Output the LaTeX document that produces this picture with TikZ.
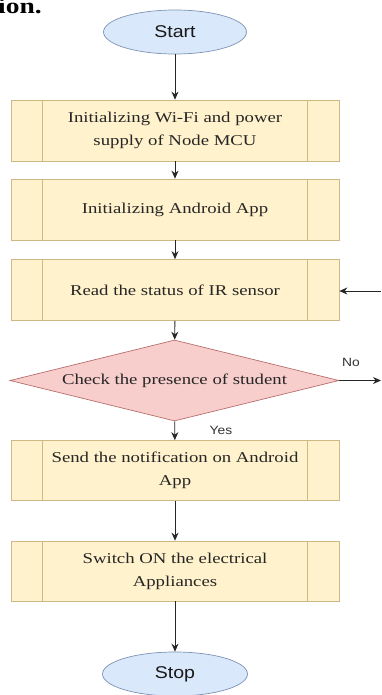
\documentclass[tikz,border=0pt]{standalone}
\usepackage{fontspec}
\setmainfont{Liberation Serif}[FakeStretch=1.25]
\setsansfont{Liberation Sans}[FakeStretch=1.15]
\usetikzlibrary{shapes.geometric,arrows.meta}
\definecolor{boxfill}{HTML}{FFF2CC}
\definecolor{boxdraw}{HTML}{CDB983}
\definecolor{dfill}{HTML}{F8CECC}
\definecolor{ddraw}{HTML}{B86F6C}
\definecolor{efill}{HTML}{DAE8FC}
\definecolor{edraw}{HTML}{7E93B3}
\tikzset{
  term/.style={ellipse, draw=edraw, fill=efill, line width=0.7pt, minimum width=143pt, minimum height=44pt, inner sep=0pt, text=black!90, font=\sffamily\fontsize{17}{20}\selectfont},
  procbox/.style={rectangle, draw=boxdraw, fill=boxfill, line width=0.7pt, minimum width=328pt, minimum height=61pt, align=center, inner sep=0pt, text=black!85, font=\fontsize{15}{23}\selectfont},
  decision/.style={diamond, draw=ddraw, fill=dfill, line width=0.7pt, minimum width=329pt, minimum height=81pt, shape aspect=4.06, inner sep=0pt, text=black!85, font=\fontsize{15}{18}\selectfont},
  sideline/.style={draw=boxdraw, line width=0.7pt},
  arr/.style={-{Stealth[length=8pt,width=7pt]}, line width=0.9pt, draw=black!85},
  lbl/.style={inner sep=0pt, text=black!80, font=\sffamily\fontsize{12}{14}\selectfont},
  heading/.style={inner sep=0pt, anchor=base west, font=\bfseries\fontsize{22}{24}\selectfont}
}
\begin{document}
\begin{tikzpicture}[x=1pt,y=-1pt]
\useasboundingbox (0,0) rectangle (381,695);
\clip (0,0) rectangle (381,695);
\fill[white] (0,0) rectangle (381,695);

\node[heading] (head) at (-2,14) {ion.};

\node[term] (start) at (175,32) {Start};
\node[procbox] (b1) at (175,130.5) {Initializing Wi-Fi and power\\supply of Node MCU};
\node[procbox] (b2) at (175,209.5) {Initializing Android App};
\node[procbox] (b3) at (175,290) {Read the status of IR sensor};
\node[decision] (d) at (174.5,380.5) {Check the presence of student};
\node[procbox, minimum height=60pt] (b4) at (175,470.5) {Send the notification on Android\\App};
\node[procbox, minimum height=60pt] (b5) at (175,571) {Switch ON the electrical\\Appliances};
\node[term, minimum width=145pt] (stop) at (175,674) {Stop};

\foreach \b in {b1,b2,b3,b4,b5}{
  \draw[sideline] ([xshift=32pt]\b.north west) -- ([xshift=32pt]\b.south west);
  \draw[sideline] ([xshift=-32pt]\b.north east) -- ([xshift=-32pt]\b.south east);
}

\coordinate (r3) at (381,291);
\coordinate (rno) at (381,380.5);

\draw[arr] (start) -- (b1);
\draw[arr] (b1) -- (b2);
\draw[arr] (b2) -- (b3);
\draw[arr] (b3) -- (d);
\draw[arr] (d) -- (b4);
\draw[arr] (b4) -- (b5);
\draw[arr] (b5) -- (stop);
\draw[arr] (r3) -- (b3.east |- r3);
\draw[arr] (d.east) -- (rno);

\node[lbl] (no) at (351,362) {No};
\node[lbl] (yes) at (221,430) {Yes};
\end{tikzpicture}
\end{document}
